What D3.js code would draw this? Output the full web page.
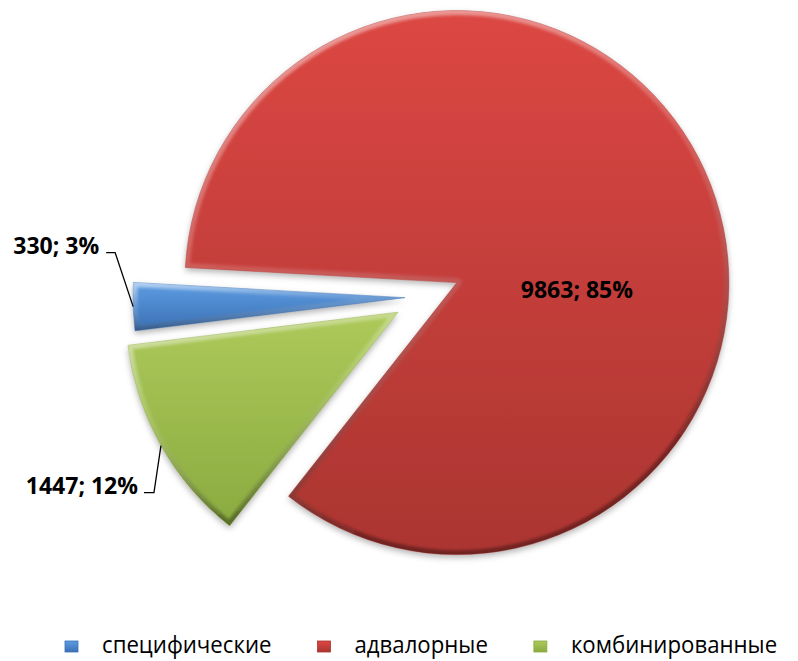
<!DOCTYPE html>
<html>
<head>
<meta charset="utf-8">
<script src="https://cdn.jsdelivr.net/npm/d3@7"></script>
<style>
  html, body { margin: 0; padding: 0; background: #fff; }
  svg { display: block; }
</style>
</head>
<body>
<svg id="chart" width="798" height="661"></svg>
<script>
// ---- data ----
const categories = ["специфические", "адвалорные", "комбинированные"];
const values = [330, 9863, 1447];
const percents = ["3%", "85%", "12%"];

// ---- styles / layout ----
const colorsTop = ["#5d9ce2", "#dc4743", "#adc95a"];
const colorsBottom = ["#3b70b4", "#ab3531", "#8aab40"];
const explode = [20, 35, 31];
const center = { x: 425, y: 297 };
const radius = 272;
const startDeg = -97;
// label offsets relative to the slice's outer-arc midpoint (outside labels) or slice center (inside)
const labelLayout = [
  { type: "out", elbow: [-18, -54], lineLen: 9, textGap: 7, dy: 1 },
  { type: "in", dx: 120, dy: 15 },
  { type: "out", elbow: [-7, 47], lineLen: 10, textGap: 6, dy: 1 }
];

const svg = d3.select("#chart");
const defs = svg.append("defs");

const shadow = defs.append("filter").attr("id", "shadow")
  .attr("x", "-10%").attr("y", "-10%").attr("width", "120%").attr("height", "125%");
shadow.append("feDropShadow").attr("dx", 0).attr("dy", 3).attr("stdDeviation", 3)
  .attr("flood-color", "#000").attr("flood-opacity", 0.3);

const soft = defs.append("filter").attr("id", "soft");
soft.append("feGaussianBlur").attr("stdDeviation", 1.6);

const pie = d3.pie().sort(null).value(d => d)
  .startAngle(startDeg * Math.PI / 180)
  .endAngle(startDeg * Math.PI / 180 + 2 * Math.PI);
const arcs = pie(values);
const arcGen = d3.arc().innerRadius(0).outerRadius(radius);

function dirOf(a) { return [Math.sin(a), -Math.cos(a)]; }

const g = svg.append("g");

arcs.forEach((a, i) => {
  const mid = (a.startAngle + a.endAngle) / 2;
  const [ux, uy] = dirOf(mid);
  const cx = center.x + explode[i] * ux;
  const cy = center.y + explode[i] * uy;
  a.cx = cx; a.cy = cy; a.mid = mid;

  const gradId = "grad" + i;
  const gr = defs.append("linearGradient").attr("id", gradId)
    .attr("x1", 0).attr("y1", 0).attr("x2", 0).attr("y2", 1);
  gr.append("stop").attr("offset", "0%").attr("stop-color", colorsTop[i]);
  gr.append("stop").attr("offset", "100%").attr("stop-color", colorsBottom[i]);

  const edgeId = "edge" + i;
  const eg = defs.append("linearGradient").attr("id", edgeId)
    .attr("x1", 0).attr("y1", 0).attr("x2", 0.3).attr("y2", 1);
  eg.append("stop").attr("offset", "0%").attr("stop-color", "#fff").attr("stop-opacity", 0.55);
  eg.append("stop").attr("offset", "45%").attr("stop-color", "#fff").attr("stop-opacity", 0.15);
  eg.append("stop").attr("offset", "100%").attr("stop-color", "#000").attr("stop-opacity", 0.35);

  const clipId = "clip" + i;
  defs.append("clipPath").attr("id", clipId)
    .append("path").attr("d", arcGen(a)).attr("transform", `translate(${cx},${cy})`);

  const sg = g.append("g").attr("transform", `translate(${cx},${cy})`);
  sg.append("path").attr("d", arcGen(a))
    .attr("fill", `url(#${gradId})`)
    .attr("filter", "url(#shadow)");
  const cg = g.append("g").attr("clip-path", `url(#${clipId})`)
    .append("g").attr("transform", `translate(${cx},${cy})`);
  cg.append("path").attr("d", arcGen(a))
    .attr("fill", "none")
    .attr("stroke", `url(#${edgeId})`)
    .attr("stroke-width", 9)
    .attr("stroke-linejoin", "round")
    .attr("filter", "url(#soft)");
  sg.append("path").attr("d", arcGen(a))
    .attr("fill", "none")
    .attr("stroke", colorsBottom[i])
    .attr("stroke-opacity", 0.6)
    .attr("stroke-width", 0.8);
});

// ---- data labels ----
const lab = svg.append("g")
  .attr("font-family", "'Open Sans', 'Noto Sans', sans-serif")
  .attr("font-weight", "bold")
  .attr("font-size", 23)
  .attr("fill", "#000");

arcs.forEach((a, i) => {
  const L = labelLayout[i];
  const txt = values[i] + "; " + percents[i];
  if (L.type === "in") {
    lab.append("text").attr("x", a.cx + L.dx).attr("y", a.cy + L.dy)
      .attr("text-anchor", "middle").text(txt);
  } else {
    const [ux, uy] = dirOf(a.mid);
    const px = a.cx + radius * ux, py = a.cy + radius * uy;
    const ex = px + L.elbow[0], ey = py + L.elbow[1];
    const sx = ex - L.lineLen;
    svg.append("path")
      .attr("d", d3.line()([[sx, ey], [ex, ey], [px, py]]))
      .attr("fill", "none").attr("stroke", "#000").attr("stroke-width", 1.3);
    lab.append("text").attr("x", sx - L.textGap).attr("y", ey + L.dy)
      .attr("text-anchor", "end").text(txt);
  }
});

// ---- legend ----
const legend = svg.append("g")
  .attr("font-family", "'Open Sans', 'Noto Sans', sans-serif")
  .attr("font-size", 24)
  .attr("fill", "#000");
let lx = 65;
const legendY = 653;
categories.forEach((c, i) => {
  const gid = "lg" + i;
  const lgr = defs.append("linearGradient").attr("id", gid)
    .attr("x1", 0).attr("y1", 0).attr("x2", 0).attr("y2", 1);
  lgr.append("stop").attr("offset", "0%").attr("stop-color", colorsTop[i]);
  lgr.append("stop").attr("offset", "100%").attr("stop-color", colorsBottom[i]);
  legend.append("rect").attr("x", lx).attr("y", legendY - 12).attr("width", 13).attr("height", 11)
    .attr("fill", `url(#${gid})`).attr("stroke", colorsBottom[i]).attr("stroke-width", 0.8);
  const t = legend.append("text").attr("x", lx + 37).attr("y", legendY).text(c);
  const w = t.node().getComputedTextLength() * 0.925;
  t.attr("textLength", w).attr("lengthAdjust", "spacingAndGlyphs");
  lx = lx + 37 + w + 46;
});
</script>
</body>
</html>
